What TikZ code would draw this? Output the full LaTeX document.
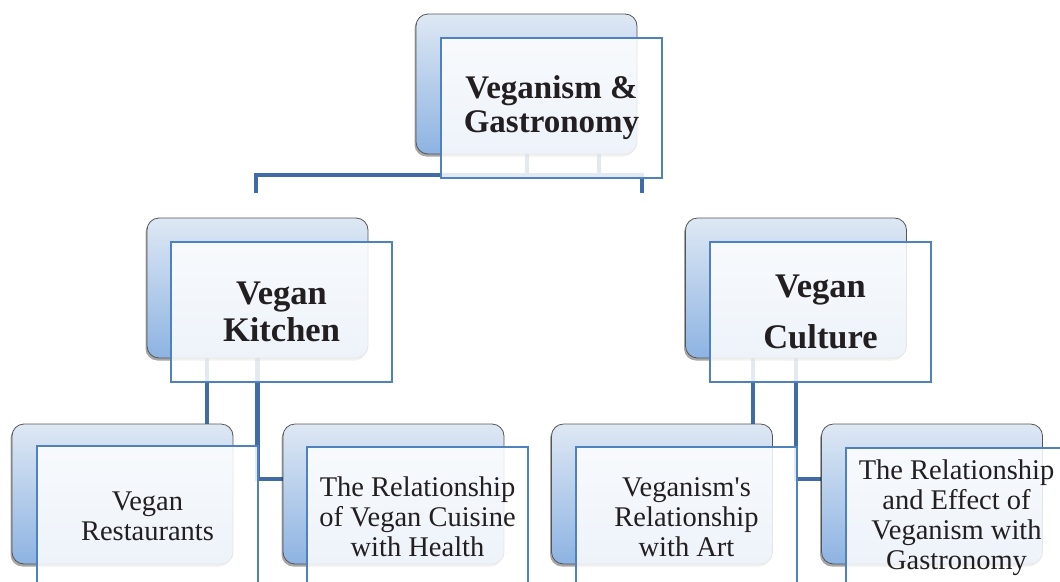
\documentclass[tikz,border=0pt]{standalone}
\usepackage{fontspec}
\setmainfont{Liberation Serif}
\usetikzlibrary{shadows,backgrounds}
\definecolor{conn}{RGB}{64,108,166}
\definecolor{frameblue}{RGB}{79,129,189}
\definecolor{backtop}{RGB}{222,232,244}
\definecolor{backbot}{RGB}{141,179,226}
\definecolor{backline}{RGB}{85,85,85}
\definecolor{txt}{RGB}{35,31,32}
\tikzset{
  backbox/.style={rectangle, rounded corners=12pt, minimum width=221pt, minimum height=140pt,
    inner sep=0pt, draw=backline, line width=0.8pt, top color=backtop, bottom color=backbot,
    drop shadow={shadow xshift=-1.5pt, shadow yshift=-2.5pt, opacity=0.35, fill=black}},
  framebox/.style={rectangle, minimum width=221pt, minimum height=140pt, inner sep=0pt,
    draw=frameblue, line width=1.4pt, fill=white, fill opacity=0.85, draw opacity=1,
    text opacity=1, align=center, text=txt},
  connector/.style={draw=conn, line width=4.3pt},
  lvlone/.style={font=\bfseries\fontsize{33}{34}\selectfont},
  lvltwo/.style={font=\bfseries\fontsize{34.5}{37}\selectfont},
  lvltwob/.style={font=\bfseries\fontsize{34.5}{51}\selectfont},
  lvlthree/.style={font=\fontsize{28.5}{30}\selectfont}
}
\begin{document}
\begin{tikzpicture}[x=1pt,y=-1pt]
\useasboundingbox (0,0) rectangle (1060,581);
% back shapes and frames
\node[backbox] (b0) at (526.5,84) {};
\node[framebox, lvlone] (f0) at (551.5,108) {Veganism \&\\Gastronomy};
\node[backbox] (b1) at (257.5,288) {};
\node[framebox, lvltwo] (f1) at (281.5,312) {Vegan\\Kitchen};
\node[backbox] (b2) at (796,288) {};
\node[framebox, lvltwob] (f2) at (820.5,312) {Vegan\\Culture};
\node[backbox] (b3) at (122.5,494) {};
\node[framebox, lvlthree] (f3) at (147.5,516) {Vegan\\Restaurants};
\node[backbox] (b4) at (393.5,494) {};
\node[framebox, lvlthree] (f4) at (417.5,517) {The Relationship\\of Vegan Cuisine\\with Health};
\node[backbox] (b5) at (662,494) {};
\node[framebox, lvlthree] (f5) at (686.5,517) {Veganism\textquotesingle s\\Relationship\\with Art};
\node[backbox] (b6) at (932,494) {};
\node[framebox, lvlthree] (f6) at (956.5,518) {The Relationship\\and Effect of\\Veganism with\\Gastronomy};
% connectors
\coordinate (tL) at (256,193);
\coordinate (tR) at (642,193);
\coordinate (tH) at (0,175);
\coordinate (g1) at (527,175);
\coordinate (g2) at (599,175);
\coordinate (k1) at (207,0);
\coordinate (c1) at (753,0);
\coordinate (kb) at (0,479);
\begin{pgfonlayer}{background}
  \draw[connector] (tL) |- (tH -| tR) -- (tR);
  \draw[connector] (b0.south -| g1) -- (g1);
  \draw[connector] (b0.south -| g2) -- (g2);
  \draw[connector] (b1.south -| k1) -- (b3.north -| k1);
  \draw[connector] (b1.south) |- (b4.west |- kb);
  \draw[connector] (b2.south -| c1) -- (b5.north -| c1);
  \draw[connector] (b2.south) |- (b6.west |- kb);
\end{pgfonlayer}
\end{tikzpicture}
\end{document}
